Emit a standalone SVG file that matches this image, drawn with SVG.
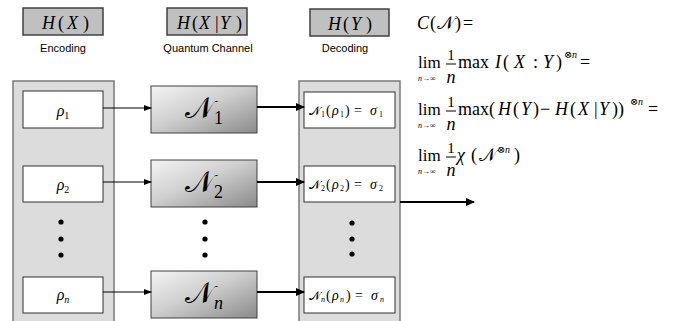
<svg xmlns="http://www.w3.org/2000/svg" width="677" height="321" viewBox="0 0 677 321">
<style>
.hb{fill:#c0c0c0;stroke:#404040;stroke-width:1.5}
.panel{fill:#dcdcdc;stroke:#7a7a7a;stroke-width:1.5}
.wb{fill:#fff;stroke:#303030;stroke-width:1}
.nb{fill:url(#g);stroke:#404040;stroke-width:1}
.m{font-family:"Liberation Serif","Times New Roman","DejaVu Serif",serif;font-style:italic;fill:#000}
.r{font-family:"Liberation Serif","Times New Roman","DejaVu Serif",serif;fill:#000}
.cal{font-style:normal}
.lab{font-family:"Liberation Sans",Arial,sans-serif;font-size:11px;fill:#000;text-anchor:middle}
.thin{stroke:#000;stroke-width:1;fill:none}
.thick{stroke:#000;stroke-width:2.2;fill:none}
.dot{fill:#000}
</style>
<defs>
<linearGradient id="g" x1="0" y1="0" x2="1" y2="1">
<stop offset="0" stop-color="#f4f4f4"/>
<stop offset="0.45" stop-color="#d0d0d0"/>
<stop offset="1" stop-color="#8a8a8a"/>
</linearGradient>
<marker id="a1" markerWidth="8" markerHeight="6" refX="7" refY="3" orient="auto" markerUnits="userSpaceOnUse">
<path d="M0,0 L8,3 L0,6 Z" fill="#000"/>
</marker>
<marker id="a2" markerWidth="9" markerHeight="8" refX="8" refY="4" orient="auto" markerUnits="userSpaceOnUse">
<path d="M0,0 L9,4 L0,8 Z" fill="#000"/>
</marker>
</defs>

<g id="header-hx"><rect class="hb" x="23" y="8" width="80" height="27"/><text class="m" y="29" font-size="18"><tspan x="42">H</tspan><tspan x="58" font-style="normal">(</tspan><tspan x="67">X</tspan><tspan x="83" font-style="normal">)</tspan></text><text class="lab" x="63" y="52">Encoding</text></g>
<g id="header-hxy"><rect class="hb" x="167" y="8" width="80" height="27"/><text class="m" y="29" font-size="18"><tspan x="177">H</tspan><tspan x="192" font-style="normal">(</tspan><tspan x="199">X</tspan><tspan x="215" font-style="normal">|</tspan><tspan x="220">Y</tspan><tspan x="236" font-style="normal">)</tspan></text><text class="lab" x="208" y="52">Quantum Channel</text></g>
<g id="header-hy"><rect class="hb" x="310" y="9" width="79" height="27"/><text class="m" y="30" font-size="18"><tspan x="328">H</tspan><tspan x="343" font-style="normal">(</tspan><tspan x="351">Y</tspan><tspan x="366" font-style="normal">)</tspan></text><text class="lab" x="345" y="52">Decoding</text></g>

<g id="encoding-panel">
<rect class="panel" x="13" y="81" width="101" height="245"/>
<circle class="dot" cx="61" cy="222" r="2.6"/><circle class="dot" cx="61" cy="239" r="2.6"/><circle class="dot" cx="61" cy="255" r="2.6"/>
</g>
<g id="rho1"><rect class="wb" x="23" y="91" width="80" height="37"/><text class="m" x="63" y="116" font-size="16" text-anchor="middle">ρ<tspan font-style="normal" font-size="10" dy="3">1</tspan></text></g>
<g id="rho2"><rect class="wb" x="23" y="166" width="80" height="36"/><text class="m" x="63" y="190" font-size="16" text-anchor="middle">ρ<tspan font-style="normal" font-size="10" dy="3">2</tspan></text></g>
<g id="rhon"><rect class="wb" x="23" y="277" width="80" height="36"/><text class="m" x="63" y="300" font-size="16" text-anchor="middle">ρ<tspan font-size="10" dy="3">n</tspan></text></g>

<g id="channel1"><rect class="nb" x="151" y="86" width="106" height="47"/><text class="m" x="204" y="118" font-size="30" text-anchor="middle"><tspan class="cal">𝒩</tspan><tspan font-style="normal" font-size="18" dy="6">1</tspan></text></g>
<g id="channel2"><rect class="nb" x="151" y="160" width="106" height="47"/><text class="m" x="204" y="192" font-size="30" text-anchor="middle"><tspan class="cal">𝒩</tspan><tspan font-style="normal" font-size="18" dy="6">2</tspan></text></g>
<g id="channel-dots"><circle class="dot" cx="205" cy="222" r="2.6"/><circle class="dot" cx="205" cy="239" r="2.6"/><circle class="dot" cx="205" cy="255" r="2.6"/></g>
<g id="channeln"><rect class="nb" x="151" y="271" width="106" height="47"/><text class="m" x="204" y="303" font-size="30" text-anchor="middle"><tspan class="cal">𝒩</tspan><tspan font-size="18" dy="6">n</tspan></text></g>

<g id="decoding-panel">
<rect class="panel" x="299" y="81" width="101" height="245"/>
<circle class="dot" cx="352" cy="223" r="2.6"/><circle class="dot" cx="352" cy="239" r="2.6"/><circle class="dot" cx="352" cy="254" r="2.6"/>
</g>
<g id="sigma1"><rect class="wb" x="304" y="92" width="91" height="36"/><text class="m" y="115" font-size="14"><tspan x="309" class="cal" font-size="12">𝒩</tspan><tspan x="321" font-style="normal" font-size="8" dy="2">1</tspan><tspan x="326" font-style="normal" dy="-2">(</tspan><tspan x="332">ρ</tspan><tspan x="340" font-style="normal" font-size="8" dy="2">1</tspan><tspan x="345" font-style="normal" dy="-2">)</tspan><tspan x="354" font-style="normal">=</tspan><tspan x="370">σ</tspan><tspan x="379" font-style="normal" font-size="8" dy="2">1</tspan></text></g>
<g id="sigma2"><rect class="wb" x="304" y="166" width="91" height="36"/><text class="m" y="189" font-size="14"><tspan x="309" class="cal" font-size="12">𝒩</tspan><tspan x="321" font-style="normal" font-size="8" dy="2">2</tspan><tspan x="326" font-style="normal" dy="-2">(</tspan><tspan x="332">ρ</tspan><tspan x="340" font-style="normal" font-size="8" dy="2">2</tspan><tspan x="345" font-style="normal" dy="-2">)</tspan><tspan x="354" font-style="normal">=</tspan><tspan x="370">σ</tspan><tspan x="379" font-style="normal" font-size="8" dy="2">2</tspan></text></g>
<g id="sigman"><rect class="wb" x="304" y="277" width="91" height="36"/><text class="m" y="300" font-size="14"><tspan x="309" class="cal" font-size="12">𝒩</tspan><tspan x="321" font-size="8" dy="2">n</tspan><tspan x="326" font-style="normal" dy="-2">(</tspan><tspan x="332">ρ</tspan><tspan x="340" font-size="8" dy="2">n</tspan><tspan x="346" font-style="normal" dy="-2">)</tspan><tspan x="355" font-style="normal">=</tspan><tspan x="371">σ</tspan><tspan x="380" font-size="8" dy="2">n</tspan></text></g>

<g id="connectors">
<line class="thin" x1="103" y1="108" x2="151" y2="108" marker-end="url(#a1)"/>
<line class="thin" x1="103" y1="182" x2="151" y2="182" marker-end="url(#a1)"/>
<line class="thin" x1="103" y1="292" x2="151" y2="292" marker-end="url(#a1)"/>
<line class="thick" x1="257" y1="107" x2="304" y2="107" marker-end="url(#a2)"/>
<line class="thick" x1="257" y1="182" x2="304" y2="182" marker-end="url(#a2)"/>
<line class="thick" x1="257" y1="292" x2="304" y2="292" marker-end="url(#a2)"/>
<line class="thick" x1="400" y1="202" x2="474" y2="202" marker-end="url(#a2)"/>
</g>

<g id="formula">
<text class="m" y="29" font-size="18"><tspan x="417">C</tspan><tspan x="430" font-style="normal">(</tspan><tspan x="437" class="cal">𝒩</tspan><tspan x="455" font-style="normal">)</tspan><tspan x="463" font-style="normal">=</tspan></text>

<text class="r" x="418" y="68" font-size="17">lim</text>
<text class="m" x="418" y="81" font-size="8">n<tspan font-style="normal">→∞</tspan></text>
<text class="r" x="451" y="60" font-size="15" text-anchor="middle">1</text>
<line x1="446" y1="64" x2="456" y2="64" stroke="#000" stroke-width="1"/>
<text class="m" x="451" y="83" font-size="18" text-anchor="middle">n</text>
<text class="m" y="68" font-size="18"><tspan x="458" font-style="normal">max</tspan><tspan x="495">I</tspan><tspan x="503" font-style="normal">(</tspan><tspan x="514">X</tspan><tspan x="533" font-style="normal">:</tspan><tspan x="543">Y</tspan><tspan x="556" font-style="normal">)</tspan><tspan x="564" y="58" font-size="10" font-style="normal">⊗</tspan><tspan x="572" y="58" font-size="10">n</tspan><tspan x="580" y="68" font-style="normal">=</tspan></text>

<text class="r" x="418" y="115" font-size="17">lim</text>
<text class="m" x="418" y="128" font-size="8">n<tspan font-style="normal">→∞</tspan></text>
<text class="r" x="451" y="107" font-size="15" text-anchor="middle">1</text>
<line x1="446" y1="111" x2="456" y2="111" stroke="#000" stroke-width="1"/>
<text class="m" x="451" y="130" font-size="18" text-anchor="middle">n</text>
<text class="m" y="115" font-size="18"><tspan x="458" font-style="normal">max</tspan><tspan x="489" font-style="normal">(</tspan><tspan x="498">H</tspan><tspan x="513" font-style="normal">(</tspan><tspan x="521">Y</tspan><tspan x="533" font-style="normal">)</tspan><tspan x="540" font-style="normal">−</tspan><tspan x="555">H</tspan><tspan x="570" font-style="normal">(</tspan><tspan x="578">X</tspan><tspan x="594" font-style="normal">|</tspan><tspan x="599">Y</tspan><tspan x="612" font-style="normal">))</tspan><tspan x="630" y="105" font-size="10" font-style="normal">⊗</tspan><tspan x="638" y="105" font-size="10">n</tspan><tspan x="648" y="115" font-style="normal">=</tspan></text>

<text class="r" x="418" y="161" font-size="17">lim</text>
<text class="m" x="418" y="174" font-size="8">n<tspan font-style="normal">→∞</tspan></text>
<text class="r" x="451" y="153" font-size="15" text-anchor="middle">1</text>
<line x1="446" y1="157" x2="456" y2="157" stroke="#000" stroke-width="1"/>
<text class="m" x="451" y="176" font-size="18" text-anchor="middle">n</text>
<text class="m" y="161" font-size="18"><tspan x="457">χ</tspan><tspan x="471" font-style="normal">(</tspan><tspan x="479" class="cal">𝒩</tspan><tspan x="497" y="153" font-size="10" font-style="normal">⊗</tspan><tspan x="505" y="153" font-size="10">n</tspan><tspan x="514" y="161" font-style="normal">)</tspan></text>
</g>
</svg>
